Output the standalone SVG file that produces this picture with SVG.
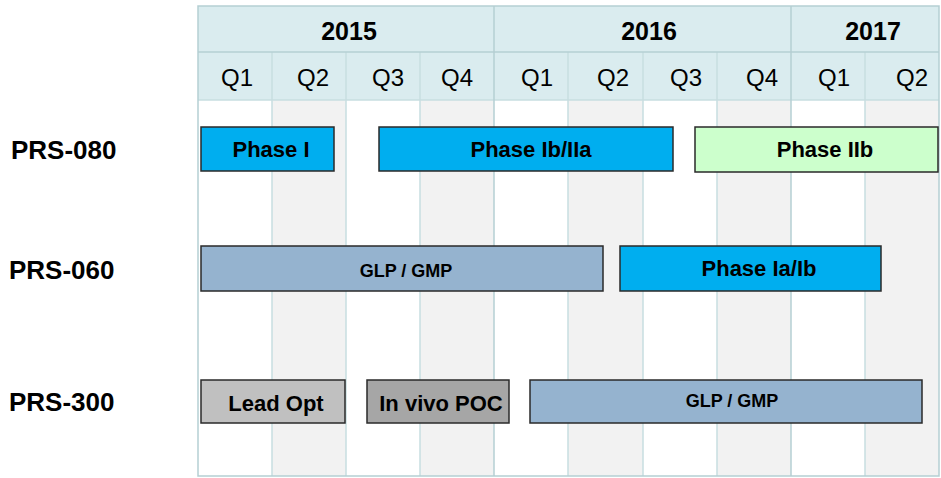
<svg xmlns="http://www.w3.org/2000/svg" width="941" height="478" viewBox="0 0 941 478">
<style>
.bg{fill:#ffffff}
.alt{fill:#f2f2f2}
.hdr{fill:#daecef}
.grid{stroke:#b5cfd3;stroke-width:1.5;fill:none}
.qgrid{stroke:#c8dee1;stroke-width:1.5;fill:none}
.yr{font-family:"Liberation Sans",Arial,sans-serif;font-weight:bold;font-size:25px;fill:#000;text-anchor:middle}
.q{font-family:"Liberation Sans",Arial,sans-serif;font-size:24px;fill:#000;text-anchor:middle}
.prs{font-family:"Liberation Sans",Arial,sans-serif;font-weight:bold;font-size:26px;fill:#000}
.bar{stroke:#2a2a2a;stroke-width:1.5}
.lbl{font-family:"Liberation Sans",Arial,sans-serif;font-weight:bold;font-size:22px;fill:#000;text-anchor:middle}
.lbls{font-family:"Liberation Sans",Arial,sans-serif;font-weight:bold;font-size:18px;fill:#000;text-anchor:middle}
.blue{fill:#00aeef}
.glp{fill:#95b3cf}
.green{fill:#ccffcc}
.lgray{fill:#c0c0c0}
.dgray{fill:#a6a6a6}
</style>
<rect x="0" y="0" width="941" height="478" fill="#ffffff"/>
<g id="grid">
  <rect class="bg" x="198" y="100" width="741" height="376"/>
  <rect class="alt" x="272" y="100" width="74" height="376"/>
  <rect class="alt" x="420" y="100" width="74" height="376"/>
  <rect class="alt" x="568" y="100" width="75" height="376"/>
  <rect class="alt" x="717" y="100" width="74" height="376"/>
  <rect class="alt" x="865" y="100" width="74" height="376"/>
  <rect class="hdr" x="198" y="6" width="741" height="94"/>
  <path class="qgrid" d="M198 100H939M272 52V476M346 52V476M420 52V476M568 52V476M643 52V476M717 52V476M865 52V476"/>
  <path class="grid" d="M198 6H939V476H198ZM198 52H939M494 6V476M791 6V476"/>
</g>
<g id="header">
  <text class="yr" x="349" y="40">2015</text>
  <text class="yr" x="649" y="40">2016</text>
  <text class="yr" x="873" y="40">2017</text>
  <text class="q" x="237" y="86">Q1</text>
  <text class="q" x="313" y="86">Q2</text>
  <text class="q" x="388" y="86">Q3</text>
  <text class="q" x="457" y="86">Q4</text>
  <text class="q" x="537" y="86">Q1</text>
  <text class="q" x="613" y="86">Q2</text>
  <text class="q" x="686" y="86">Q3</text>
  <text class="q" x="762" y="86">Q4</text>
  <text class="q" x="834" y="86">Q1</text>
  <text class="q" x="912" y="86">Q2</text>
</g>
<g id="rows">
  <text class="prs" x="11" y="159">PRS-080</text>
  <text class="prs" x="9" y="279">PRS-060</text>
  <text class="prs" x="9" y="411">PRS-300</text>
</g>
<g id="phase-i">
  <rect class="bar blue" x="201" y="127" width="133" height="44"/>
  <text class="lbl" x="271" y="157">Phase I</text>
</g>
<g id="phase-ib-iia">
  <rect class="bar blue" x="379" y="127" width="294" height="44"/>
  <text class="lbl" x="531" y="157">Phase Ib/IIa</text>
</g>
<g id="phase-iib">
  <rect class="bar green" x="695" y="127" width="243" height="45"/>
  <text class="lbl" x="825" y="157">Phase IIb</text>
</g>
<g id="glp-060">
  <rect class="bar glp" x="201" y="246" width="402" height="45"/>
  <text class="lbls" x="406" y="277">GLP / GMP</text>
</g>
<g id="phase-ia-ib">
  <rect class="bar blue" x="620" y="246" width="261" height="45"/>
  <text class="lbl" x="759" y="276">Phase Ia/Ib</text>
</g>
<g id="lead-opt">
  <rect class="bar lgray" x="201" y="380" width="144" height="43"/>
  <text class="lbl" x="276" y="411">Lead Opt</text>
</g>
<g id="in-vivo-poc">
  <rect class="bar dgray" x="367" y="380" width="142" height="43"/>
  <text class="lbl" x="441" y="411">In vivo POC</text>
</g>
<g id="glp-300">
  <rect class="bar glp" x="530" y="380" width="392" height="43"/>
  <text class="lbls" x="732" y="407">GLP / GMP</text>
</g>
<g id="connectors"/>
</svg>
